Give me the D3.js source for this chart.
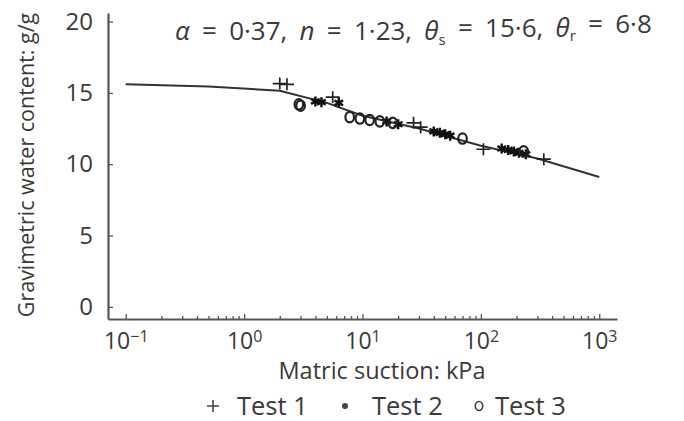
<!DOCTYPE html>
<html>
<head>
<meta charset="utf-8">
<script src="https://cdn.jsdelivr.net/npm/d3@7"></script>
<style>
  body { margin: 0; background: #fff; }
  svg text { font-family: "Open Sans", "Noto Sans", sans-serif; fill: #3a3a3a; }
</style>
</head>
<body>
<script>
// fitted curve (suction kPa, water content g/g)
const curveSuction = [0.1, 0.5, 2, 5, 10, 30, 100, 300, 1000];
const curveWater = [15.6, 15.45, 15.15, 14.3, 13.4, 12.5, 11.3, 10.4, 9.1];

// test points
const test1Suction = [2.0, 2.3, 5.6, 27, 31, 105, 340];
const test1Water = [15.65, 15.6, 14.7, 12.9, 12.6, 11.05, 10.35];
const test2Suction = [4.0, 4.5, 6.3, 16, 20, 40, 45, 50, 55, 150, 170, 190, 210, 240];
const test2Water = [14.4, 14.35, 14.3, 13.0, 12.8, 12.3, 12.2, 12.1, 12.0, 11.1, 11.0, 10.9, 10.8, 10.7];
const test3Suction = [2.9, 3.0, 7.8, 9.5, 11.5, 14, 18, 70, 230];
const test3Water = [14.2, 14.1, 13.3, 13.2, 13.1, 13.0, 12.9, 11.8, 10.9];

const xDecades = [-1, 0, 1, 2, 3];
const yTicks = [0, 5, 10, 15, 20];
const legendLabels = ['Test 1', 'Test 2', 'Test 3'];

const width = 684, height = 421;
const margin = { left: 108, top: 13, right: 67, bottom: 102 };

const svg = d3.select('body').append('svg')
  .attr('width', width)
  .attr('height', height);

const x = d3.scaleLog()
  .domain([Math.pow(10, -1.15), Math.pow(10, 3.15)])
  .range([margin.left, width - margin.right]);

const y = d3.scaleLinear()
  .domain([-0.85, 20.6])
  .range([height - margin.bottom, margin.top]);

// minor ticks 2..9 per decade
const minor = [];
xDecades.slice(0, -1).forEach(e => {
  for (let k = 2; k <= 9; k++) minor.push(k * Math.pow(10, e));
});

svg.append('g')
  .attr('transform', `translate(0,${height - margin.bottom})`)
  .call(d3.axisBottom(x).tickValues(minor).tickFormat('').tickSize(-3).tickSizeOuter(0))
  .call(g => g.select('.domain').remove())
  .call(g => g.selectAll('line').attr('stroke', '#555').attr('stroke-width', 1.3));

const xAxis = svg.append('g')
  .attr('transform', `translate(0,${height - margin.bottom})`)
  .call(d3.axisBottom(x)
    .tickValues(xDecades.map(e => Math.pow(10, e)))
    .tickFormat('')
    .tickSize(-5)
    .tickSizeOuter(0)
    .tickPadding(14));
xAxis.select('.domain').attr('stroke', '#555').attr('stroke-width', 2.2);
xAxis.selectAll('line').attr('stroke', '#555').attr('stroke-width', 1.3);
xAxis.selectAll('.tick text')
  .attr('font-size', 23)
  .each(function (d) {
    const t = d3.select(this);
    const e = Math.round(Math.log10(d));
    t.append('tspan').text('10');
    t.append('tspan').attr('dy', '-0.45em').attr('font-size', 16)
      .text(e < 0 ? '\u2212' + (-e) : e);
  });

const yAxis = svg.append('g')
  .attr('transform', `translate(${margin.left},0)`)
  .call(d3.axisLeft(y).tickValues(yTicks).tickSize(-5).tickSizeOuter(0).tickPadding(15));
yAxis.select('.domain').attr('stroke', '#555').attr('stroke-width', 2.2);
yAxis.selectAll('line').attr('stroke', '#555').attr('stroke-width', 1.3);
yAxis.selectAll('.tick text').attr('font-size', 24);

// axis titles
svg.append('text')
  .attr('text-anchor', 'middle')
  .attr('transform', 'translate(34,165) rotate(-90)')
  .attr('font-size', 21.5)
  .text('Gravimetric water content: g/g');

svg.append('text')
  .attr('text-anchor', 'middle')
  .attr('x', 382)
  .attr('y', 379)
  .attr('font-size', 23.5)
  .text('Matric suction: kPa');

// parameter annotation
const ann = svg.append('text')
  .attr('x', 175)
  .attr('y', 40)
  .attr('font-size', 26)
  .attr('word-spacing', 5.5);
ann.append('tspan').attr('font-style', 'italic').text('\u03b1');
ann.append('tspan').text(' = 0\u00b737, ');
ann.append('tspan').attr('font-style', 'italic').text('n');
ann.append('tspan').text(' = 1\u00b723, ');
ann.append('tspan').attr('font-style', 'italic').text('\u03b8');
ann.append('tspan').attr('font-size', 15).attr('dy', '0.3em').text('s');
ann.append('tspan').attr('dy', '-0.3em').text(' = 15\u00b76, ');
ann.append('tspan').attr('font-style', 'italic').text('\u03b8');
ann.append('tspan').attr('font-size', 15).attr('dy', '0.3em').text('r');
ann.append('tspan').attr('dy', '-0.3em').text(' = 6\u00b78');

// curve
const curve = curveSuction.map((s, i) => [s, curveWater[i]]);
svg.append('path')
  .datum(curve)
  .attr('fill', 'none')
  .attr('stroke', '#333')
  .attr('stroke-width', 2)
  .attr('d', d3.line().x(d => x(d[0])).y(d => y(d[1])));

const plus = 'M-7,0H7M0,-6V6';

// test 1: plus
svg.append('g').selectAll('path')
  .data(test1Suction.map((s, i) => [s, test1Water[i]]))
  .join('path')
  .attr('transform', d => `translate(${x(d[0])},${y(d[1])})`)
  .attr('d', plus)
  .attr('stroke', '#222')
  .attr('stroke-width', 1.7)
  .attr('fill', 'none');

// test 2: asterisk
svg.append('g').selectAll('path')
  .data(test2Suction.map((s, i) => [s, test2Water[i]]))
  .join('path')
  .attr('transform', d => `translate(${x(d[0])},${y(d[1])})`)
  .attr('d', d3.symbol(d3.symbolAsterisk, 70))
  .attr('stroke', '#111')
  .attr('stroke-width', 2.5)
  .attr('fill', 'none');

// test 3: circle
svg.append('g').selectAll('ellipse')
  .data(test3Suction.map((s, i) => [s, test3Water[i]]))
  .join('ellipse')
  .attr('cx', d => x(d[0]))
  .attr('cy', d => y(d[1]))
  .attr('rx', 4.3)
  .attr('ry', 5.2)
  .attr('stroke', '#222')
  .attr('stroke-width', 2.2)
  .attr('fill', 'none');

// legend
const legendX = [213, 345, 479];
const lg = svg.append('g');
legendLabels.forEach((label, i) => {
  const cx = legendX[i], cy = 406;
  if (i === 0) {
    lg.append('path').attr('transform', `translate(${cx},${cy})`).attr('d', 'M-6,0H6M0,-6V6')
      .attr('stroke', '#444').attr('stroke-width', 1.6);
  } else if (i === 1) {
    lg.append('circle').attr('cx', cx).attr('cy', cy).attr('r', 3).attr('fill', '#444');
  } else {
    lg.append('ellipse').attr('cx', cx).attr('cy', cy).attr('rx', 3.7).attr('ry', 4.5)
      .attr('fill', 'none').attr('stroke', '#444').attr('stroke-width', 1.7);
  }
  lg.append('text')
    .attr('x', cx + (i === 0 ? 24 : i === 1 ? 27 : 16))
    .attr('y', cy + 9)
    .attr('font-size', 25.5)
    .text(label);
});
</script>
</body>
</html>
